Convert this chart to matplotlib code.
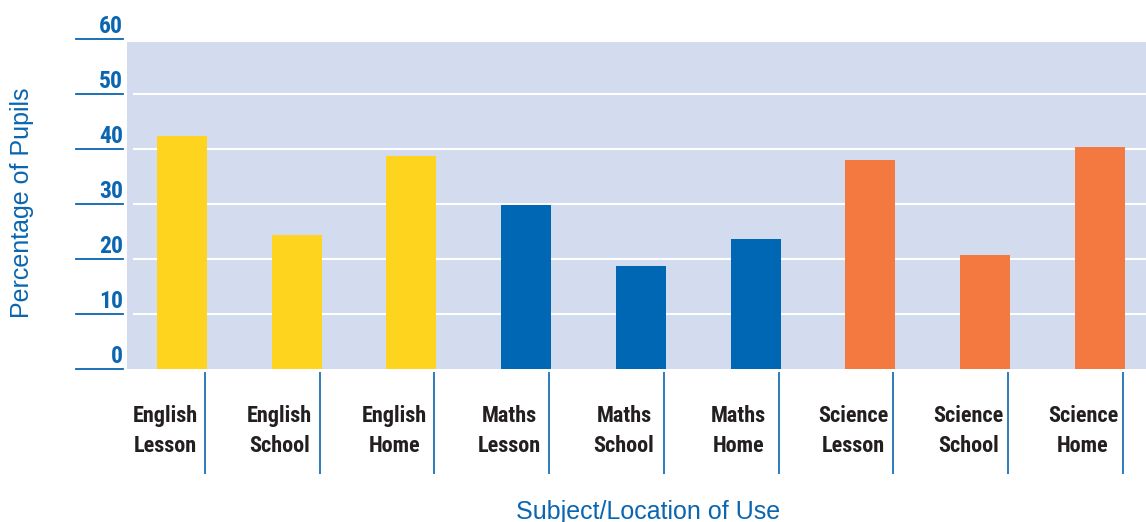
import matplotlib.pyplot as plt

# data
categories = ['English\nLesson', 'English\nSchool', 'English\nHome',
              'Maths\nLesson', 'Maths\nSchool', 'Maths\nHome',
              'Science\nLesson', 'Science\nSchool', 'Science\nHome']
values = [42.4, 24.4, 38.8, 29.8, 18.7, 23.6, 38.0, 20.7, 40.4]
subjects = ['English'] * 3 + ['Maths'] * 3 + ['Science'] * 3
yticks = [0, 10, 20, 30, 40, 50, 60]

colours = {'English': '#fed41e', 'Maths': '#0067b4', 'Science': '#f47940'}
blue = '#0a66b0'
narrow = ['Liberation Sans Narrow', 'Roboto Condensed', 'DejaVu Sans']

W, H = 1146, 522
fig = plt.figure(figsize=(W / 100, H / 100), dpi=100)
ax = fig.add_axes([127 / W, (H - 369) / H, 1019 / W, (369 - 42) / H])
ax.set_facecolor('#d3dcef')
for s in ax.spines.values():
    s.set_visible(False)
ax.set_xticks([])
ax.set_yticks([])

x = list(range(len(values)))
ax.set_xlim(-0.479, 8.401)
ax.set_ylim(0, 59.45)

# white grid lines
ax.hlines(yticks[1:-1], -0.43, 8.401, colors='white', lw=1.5, zorder=1)

ax.bar(x, values, width=0.436, color=[colours[s] for s in subjects], zorder=2)

# y ticks drawn by hand (60 sits above the shaded area)
ytrans = ax.get_yaxis_transform()
for t in yticks:
    ax.plot([-0.05, -0.004], [t, t], color=blue, lw=1.3, transform=ytrans,
            clip_on=False)
    ax.text(-0.004, t + 1.1, str(t), transform=ytrans, ha='right',
            va='baseline', fontsize=17, fontweight='bold', color=blue,
            family=narrow, fontstretch='condensed')

# category labels and separators
for i, lab in enumerate(categories):
    ax.vlines(i + 0.2, -19.1, -0.55, colors=blue, lw=1.2, clip_on=False)
    ax.text(i - 0.148, -11.3, lab, ha='center', va='center', fontsize=16,
            fontweight='bold', color='#231f20', family=narrow,
            fontstretch='condensed', linespacing=1.45, clip_on=False)

fig.text(22 / W, 1 - 203 / H, 'Percentage of Pupils', rotation=90,
         ha='center', va='center', fontsize=18, color=blue,
         family=['Liberation Sans', 'DejaVu Sans'])
fig.text(648 / W, 1 - 512 / H, 'Subject/Location of Use', ha='center',
         va='center', fontsize=18, color=blue,
         family=['Liberation Sans', 'DejaVu Sans'])

fig.savefig('out.png', dpi=100)
